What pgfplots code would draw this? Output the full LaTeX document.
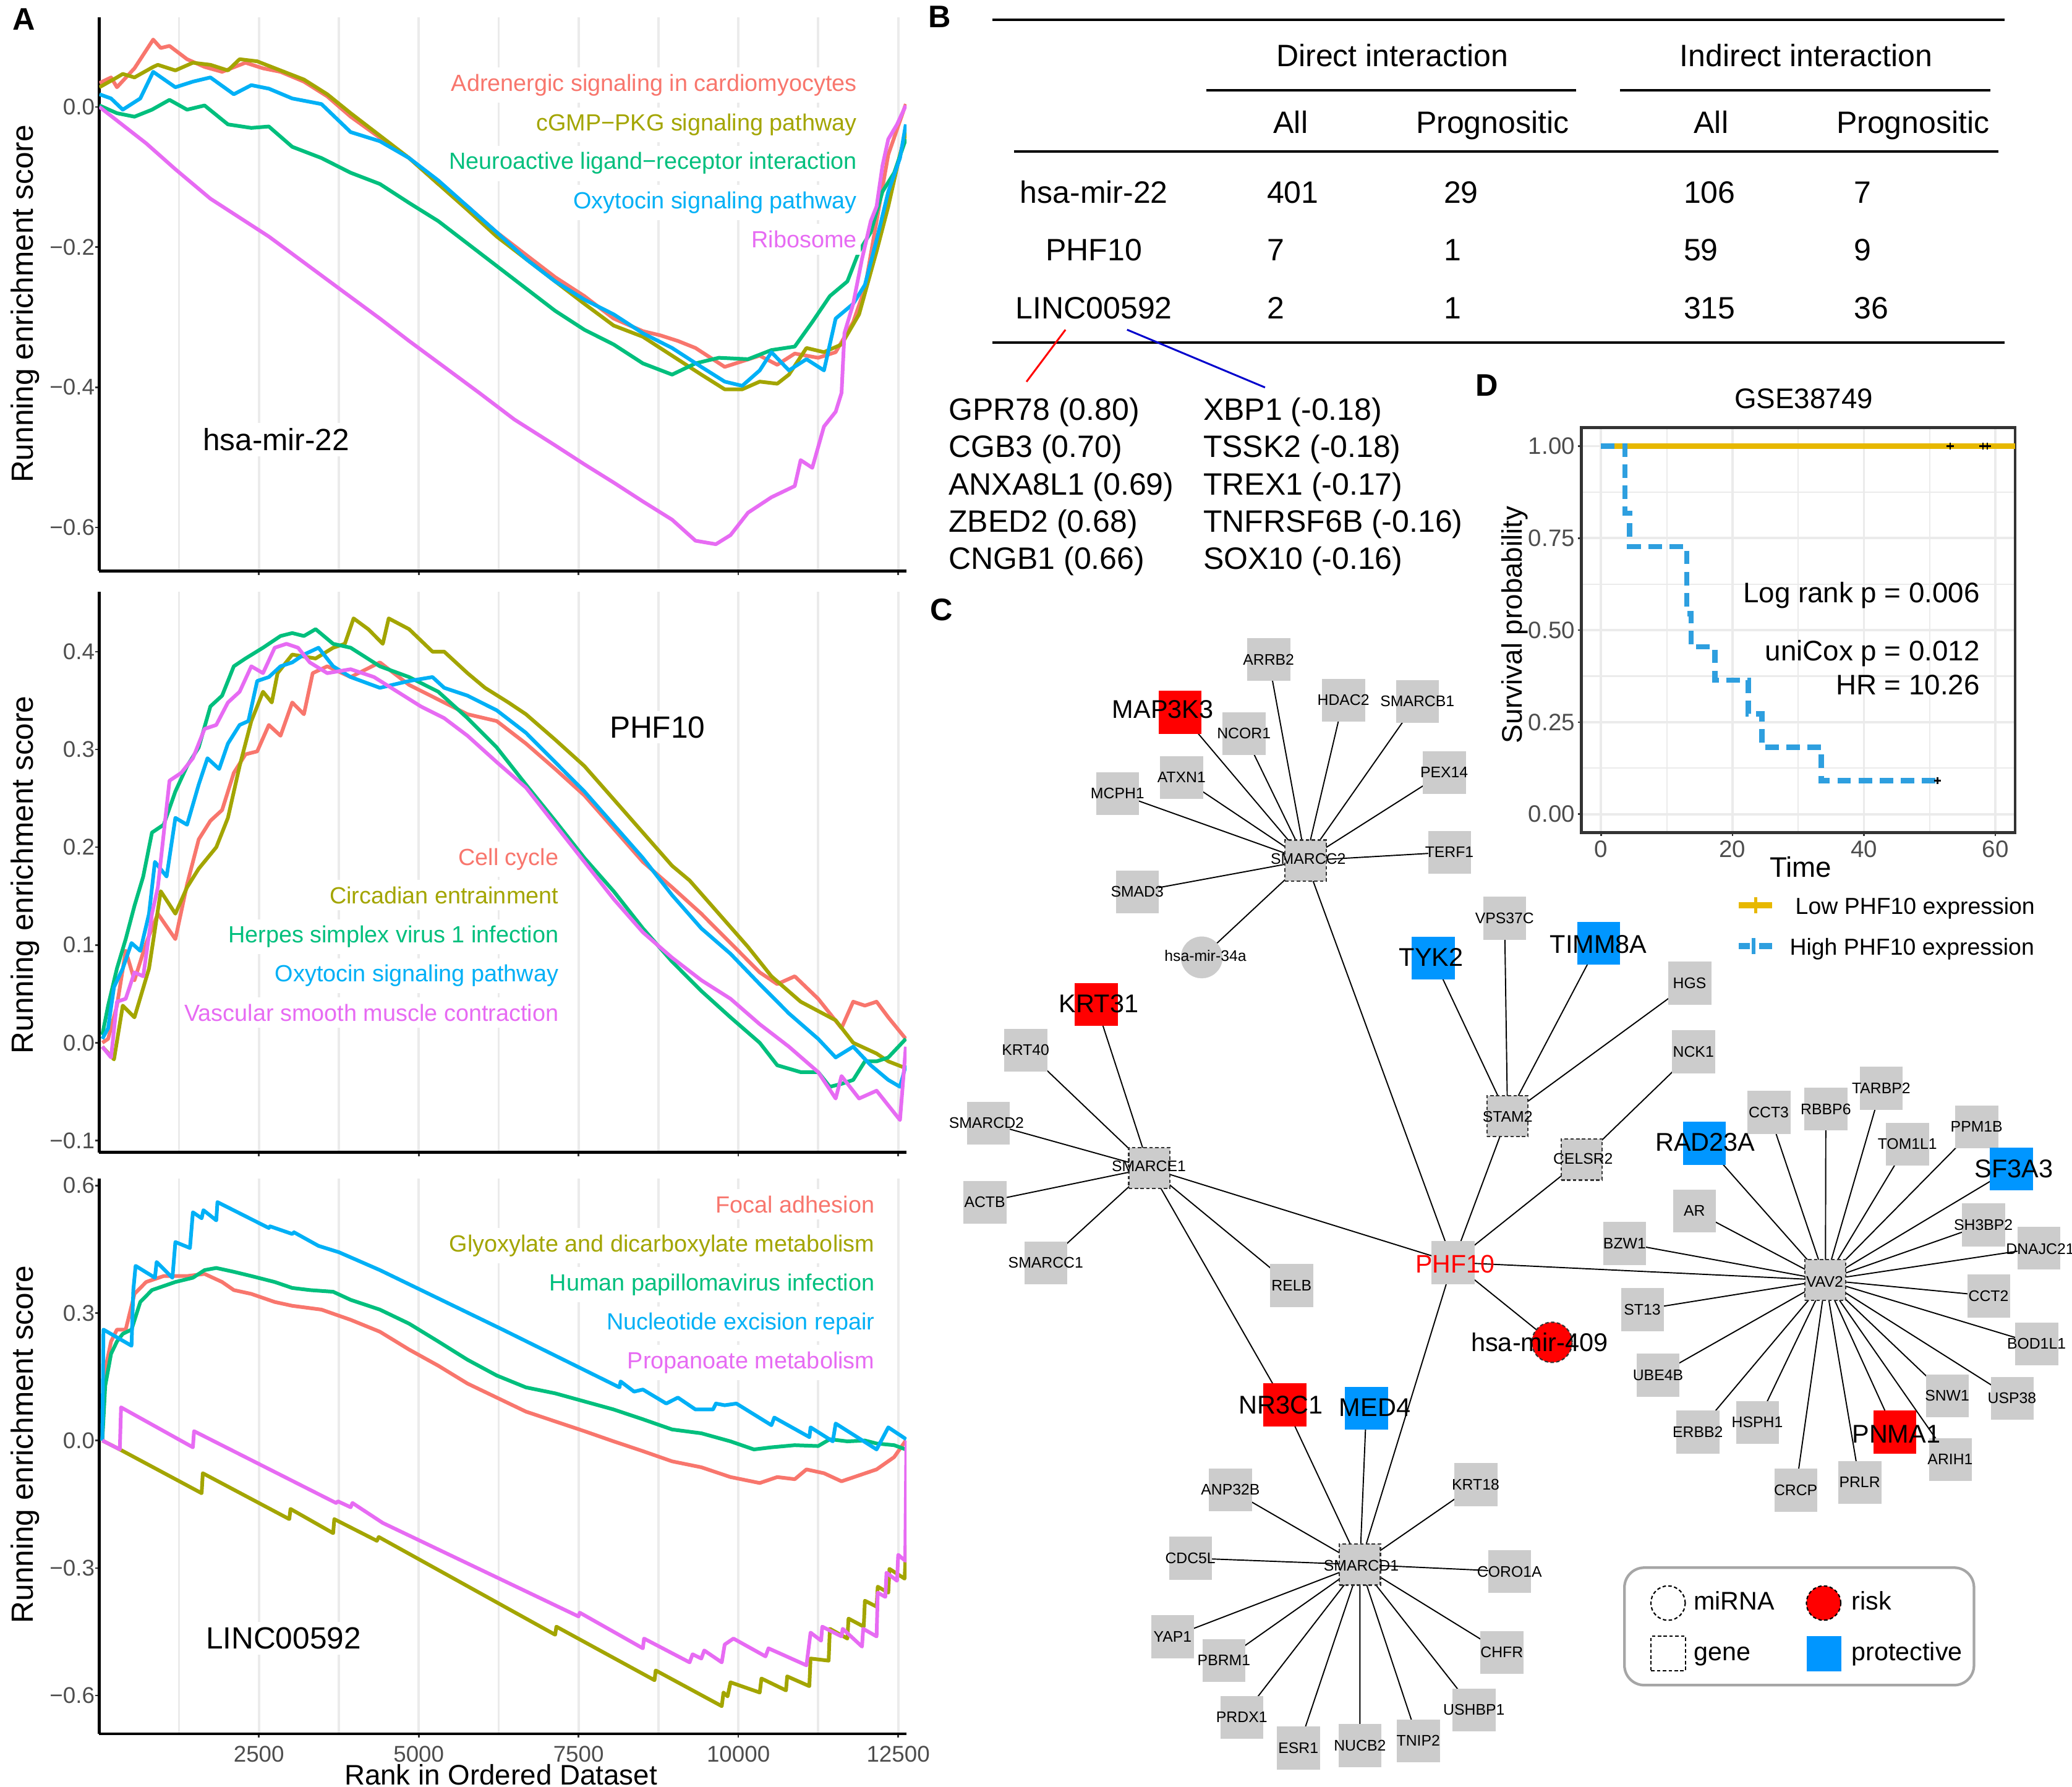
\documentclass[border=0pt]{standalone}
\usepackage{fontspec}
\setmainfont{Liberation Sans}
\usepackage{pgfplots}
\pgfplotsset{compat=1.18}

\definecolor{gR}{HTML}{F8766D}
\definecolor{gO}{HTML}{A3A500}
\definecolor{gG}{HTML}{00BF7D}
\definecolor{gB}{HTML}{00B0F6}
\definecolor{gP}{HTML}{E76BF3}
\definecolor{labgray}{HTML}{4D4D4D}
\definecolor{gridgray}{HTML}{EBEBEB}
\definecolor{tickdark}{HTML}{333333}
\definecolor{nodegray}{HTML}{CCCCCC}
\definecolor{riskred}{HTML}{FF0000}
\definecolor{protblue}{HTML}{0096FF}
\definecolor{kmgold}{HTML}{E7B800}
\definecolor{kmblue}{HTML}{2E9FDF}
\definecolor{boxgray}{HTML}{A6A6A6}

\newcommand\fsz[1]{\fontsize{#1}{#1}\selectfont}

\pgfplotsset{
  gsea/.style={
    scale only axis, width=305.5pt, xmin=0, xmax=12630,
    axis lines=left, axis line style={-, line width=1.1pt, black},
    xtick={2500,5000,7500,10000,12500},
    minor xtick={1250,3750,6250,8750,11250},
    scaled x ticks=false,
    tick align=outside, major tick length=1.5pt, minor tick length=0pt,
    tick style={line width=0.6pt, tickdark},
    xmajorgrids, xminorgrids,
    major grid style={gridgray, line width=0.9pt},
    minor grid style={gridgray, line width=0.9pt},
    ticklabel style={font=\fsz{8.6}, text=labgray},
    yticklabel style={inner sep=0pt},
    xticklabel style={inner sep=3pt},
  },
}
\tikzset{
  t/.style={inner sep=0pt},
  gline/.style={line width=1.4pt, line join=round},
  glab/.style={anchor=base east, font=\fsz{8.85}, fill=white, inner xsep=1.5pt, inner ysep=2.5pt, xshift=1.5pt},
  gtitle/.style={anchor=base, font=\fsz{11.6}, fill=white, inner sep=2pt},
}

\begin{document}
\begin{tikzpicture}

% ---------------- A: hsa-mir-22
\begin{axis}[gsea, at={(37.5pt,460pt)}, anchor=south west, height=209.5pt,
  ymin=-0.662, ymax=0.128, ytick={-0.6,-0.4,-0.2,0}, yticklabels={−0.6,−0.4,−0.2,0.0},
  xticklabels={{},{},{},{},{}}]
\addplot[gR, gline] coordinates {(5,0.034) (187,0.042) (279,0.028) (553,0.055) (846,0.096) (964,0.084) (1101,0.087) (1376,0.068) (1650,0.057) (1924,0.050) (2290,0.063) (2564,0.055) (2838,0.050) (3204,0.036) (3569,0.015) (3935,-0.014) (4392,-0.044) (4849,-0.073) (5306,-0.110) (5763,-0.142) (6220,-0.179) (6677,-0.211) (7134,-0.243) (7591,-0.270) (8049,-0.302) (8506,-0.320) (8780,-0.326) (9054,-0.334) (9329,-0.344) (9786,-0.371) (10060,-0.363) (10334,-0.355) (10608,-0.368) (10882,-0.352) (11248,-0.358) (11522,-0.350) (11796,-0.307) (11979,-0.259) (12162,-0.163) (12345,-0.068) (12528,-0.020) (12619,0.004)};
\addplot[gO, gline] coordinates {(5,0.028) (279,0.042) (370,0.047) (553,0.042) (846,0.057) (919,0.060) (1193,0.052) (1467,0.063) (1741,0.060) (2015,0.052) (2198,0.068) (2473,0.065) (2838,0.052) (3204,0.039) (3569,0.018) (3935,-0.009) (4392,-0.041) (4849,-0.073) (5306,-0.110) (5763,-0.147) (6220,-0.185) (6677,-0.217) (7134,-0.249) (7591,-0.281) (8049,-0.312) (8506,-0.328) (8963,-0.355) (9420,-0.382) (9786,-0.403) (10060,-0.403) (10334,-0.392) (10608,-0.395) (10791,-0.382) (11065,-0.344) (11339,-0.350) (11613,-0.339) (11888,-0.296) (12162,-0.206) (12345,-0.142) (12528,-0.068) (12625,-0.036)};
\addplot[gG, gline] coordinates {(5,0.002) (279,-0.009) (553,-0.014) (827,-0.004) (1101,0.010) (1376,-0.004) (1650,0.002) (2015,-0.025) (2381,-0.030) (2655,-0.028) (3021,-0.057) (3478,-0.073) (3935,-0.094) (4392,-0.110) (4849,-0.137) (5306,-0.163) (5763,-0.195) (6220,-0.227) (6677,-0.259) (7134,-0.291) (7591,-0.318) (8049,-0.339) (8506,-0.366) (8963,-0.382) (9329,-0.366) (9694,-0.358) (10151,-0.360) (10517,-0.347) (10882,-0.342) (11156,-0.307) (11431,-0.270) (11705,-0.249) (11888,-0.206) (12071,-0.179) (12254,-0.121) (12437,-0.094) (12619,-0.046)};
\addplot[gB, gline] coordinates {(5,0.018) (187,0.012) (370,-0.004) (644,0.012) (846,0.050) (1193,0.028) (1467,0.036) (1741,0.042) (2107,0.018) (2381,0.031) (2655,0.026) (3021,0.012) (3478,0.004) (3935,-0.036) (4392,-0.049) (4849,-0.073) (5306,-0.105) (5763,-0.142) (6220,-0.179) (6677,-0.217) (7134,-0.249) (7591,-0.275) (8049,-0.296) (8506,-0.323) (8963,-0.344) (9420,-0.371) (9786,-0.392) (10060,-0.398) (10334,-0.376) (10517,-0.350) (10791,-0.376) (11065,-0.360) (11339,-0.376) (11522,-0.302) (11796,-0.281) (11979,-0.254) (12162,-0.190) (12345,-0.121) (12528,-0.073) (12619,-0.025)};
\addplot[gP, gline] coordinates {(5,0.0) (736,-0.052) (1193,-0.089) (1741,-0.131) (2198,-0.158) (2655,-0.185) (3204,-0.222) (3752,-0.259) (4392,-0.302) (4849,-0.334) (5398,-0.371) (5946,-0.408) (6495,-0.446) (7134,-0.483) (7591,-0.510) (8049,-0.536) (8506,-0.563) (8963,-0.589) (9329,-0.619) (9648,-0.624) (9877,-0.611) (10151,-0.579) (10517,-0.557) (10882,-0.541) (10974,-0.504) (11156,-0.515) (11339,-0.456) (11522,-0.435) (11614,-0.408) (11659,-0.323) (11796,-0.281) (11934,-0.217) (12071,-0.163) (12162,-0.142) (12254,-0.084) (12345,-0.046) (12482,-0.025) (12619,0.002)};
\node[glab, text=gR] at (axis cs:11862,0.02245) {Adrenergic signaling in cardiomyocytes};
\node[glab, text=gO] at (axis cs:11862,-0.03434) {cGMP−PKG signaling pathway};
\node[glab, text=gG] at (axis cs:11862,-0.08925) {Neuroactive ligand−receptor interaction};
\node[glab, text=gB] at (axis cs:11862,-0.1451) {Oxytocin signaling pathway};
\node[glab, text=gP] at (axis cs:11862,-0.2009) {Ribosome};
\node[gtitle] at (axis cs:2769,-0.4906) {hsa-mir-22};
\end{axis}

% ---------------- A: PHF10
\begin{axis}[gsea, at={(37.5pt,240pt)}, anchor=south west, height=212pt,
  ymin=-0.112, ymax=0.461, ytick={-0.1,0,0.1,0.2,0.3,0.4}, yticklabels={−0.1,0.0,0.1,0.2,0.3,0.4},
  xticklabels={{},{},{},{},{}}]
\addplot[gR, gline] coordinates {(50,0.0) (141,0.004) (279,0.038) (416,0.094) (553,0.064) (736,0.102) (919,0.132) (1193,0.106) (1376,0.162) (1558,0.208) (1741,0.227) (1924,0.238) (2107,0.276) (2290,0.295) (2473,0.298) (2655,0.325) (2838,0.314) (3021,0.348) (3204,0.336) (3341,0.378) (3569,0.385) (3935,0.374) (4392,0.389) (4849,0.366) (5306,0.351) (5763,0.336) (6220,0.329) (6677,0.306) (7134,0.280) (7591,0.253) (8049,0.219) (8506,0.185) (8963,0.159) (9420,0.132) (9877,0.102) (10334,0.072) (10608,0.060) (10882,0.068) (11248,0.045) (11613,0.015) (11796,0.042) (11979,0.038) (12162,0.042) (12345,0.026) (12619,0.004)};
\addplot[gO, gline] coordinates {(50,-0.004) (233,-0.017) (370,0.038) (553,0.026) (781,0.076) (964,0.155) (1193,0.132) (1376,0.159) (1558,0.178) (1833,0.200) (2015,0.230) (2198,0.283) (2381,0.329) (2564,0.359) (2701,0.348) (2792,0.378) (3021,0.397) (3387,0.393) (3661,0.404) (3844,0.408) (3981,0.434) (4210,0.423) (4438,0.408) (4530,0.434) (4849,0.423) (5215,0.400) (5398,0.400) (5763,0.378) (6037,0.363) (6403,0.348) (6677,0.336) (7134,0.310) (7591,0.283) (8049,0.249) (8506,0.215) (8963,0.181) (9237,0.166) (9694,0.132) (10151,0.098) (10517,0.068) (10974,0.042) (11522,0.023) (11796,0.0) (12162,-0.011) (12345,-0.019) (12619,-0.026)};
\addplot[gG, gline] coordinates {(50,0.008) (141,0.038) (279,0.076) (416,0.106) (553,0.140) (690,0.170) (827,0.215) (1010,0.223) (1193,0.257) (1376,0.283) (1558,0.302) (1741,0.344) (1924,0.355) (2107,0.385) (2290,0.393) (2564,0.404) (2838,0.416) (3021,0.419) (3204,0.416) (3387,0.423) (3661,0.408) (3935,0.404) (4392,0.385) (4849,0.374) (5306,0.359) (5763,0.332) (6220,0.302) (6677,0.264) (7134,0.227) (7591,0.189) (8049,0.155) (8506,0.117) (8963,0.083) (9420,0.053) (9877,0.026) (10334,0.0) (10608,-0.023) (10974,-0.030) (11248,-0.030) (11431,-0.045) (11613,-0.042) (11796,-0.038) (11979,-0.019) (12162,-0.019) (12345,-0.015) (12619,0.004)};
\addplot[gB, gline] coordinates {(50,0.004) (141,0.015) (233,0.057) (370,0.076) (507,0.102) (644,0.094) (781,0.132) (873,0.185) (1056,0.170) (1193,0.230) (1376,0.223) (1558,0.264) (1695,0.291) (1878,0.280) (2015,0.306) (2198,0.325) (2335,0.329) (2473,0.370) (2655,0.374) (2838,0.385) (3021,0.389) (3204,0.397) (3432,0.404) (3661,0.385) (3935,0.374) (4392,0.363) (4849,0.370) (5215,0.374) (5398,0.363) (5763,0.355) (6220,0.340) (6677,0.317) (7134,0.287) (7591,0.257) (8049,0.223) (8506,0.189) (8963,0.151) (9420,0.117) (9877,0.091) (10334,0.060) (10791,0.030) (11248,0.004) (11522,-0.015) (11796,-0.004) (12071,-0.023) (12345,-0.038) (12528,-0.045) (12619,-0.023)};
\addplot[gP, gline] coordinates {(50,-0.004) (187,-0.015) (279,0.042) (416,0.045) (553,0.072) (690,0.068) (827,0.132) (919,0.159) (1101,0.268) (1284,0.276) (1467,0.291) (1650,0.321) (1832,0.325) (2015,0.348) (2198,0.359) (2381,0.385) (2564,0.378) (2747,0.404) (2930,0.408) (3112,0.404) (3295,0.389) (3569,0.378) (3935,0.382) (4301,0.374) (4667,0.359) (5032,0.344) (5398,0.332) (5763,0.314) (6220,0.287) (6677,0.261) (7134,0.223) (7591,0.185) (8049,0.147) (8506,0.113) (8963,0.087) (9420,0.064) (9877,0.045) (10334,0.019) (10791,-0.004) (11248,-0.030) (11522,-0.057) (11613,-0.034) (11888,-0.057) (12162,-0.049) (12345,-0.064) (12528,-0.079) (12619,-0.004)};
\node[glab, text=gR] at (axis cs:7194,0.1815) {Cell cycle};
\node[glab, text=gO] at (axis cs:7194,0.1423) {Circadian entrainment};
\node[glab, text=gG] at (axis cs:7194,0.1023) {Herpes simplex virus 1 infection};
\node[glab, text=gB] at (axis cs:7194,0.0623) {Oxytocin signaling pathway};
\node[glab, text=gP] at (axis cs:7194,0.0223) {Vascular smooth muscle contraction};
\node[gtitle] at (axis cs:8734,0.3118) {PHF10};
\end{axis}

% ---------------- A: LINC00592
\begin{axis}[gsea, at={(37.5pt,20pt)}, anchor=south west, height=210pt,
  ymin=-0.69, ymax=0.616, ytick={-0.6,-0.3,0,0.3,0.6}, yticklabels={−0.6,−0.3,0.0,0.3,0.6},
  xticklabels={2500,5000,7500,10000,12500}]
\addplot[gR, gline] coordinates {(50,0) (96,0.167) (187,0.233) (279,0.261) (416,0.261) (553,0.345) (736,0.373) (1010,0.387) (1376,0.387) (1650,0.392) (1924,0.373) (2107,0.354) (2381,0.345) (2747,0.326) (3021,0.317) (3478,0.308) (3935,0.284) (4392,0.256) (4849,0.214) (5306,0.176) (5763,0.134) (6220,0.101) (6677,0.068) (7134,0.045) (7591,0.022) (8049,-0.002) (8506,-0.025) (8963,-0.049) (9420,-0.063) (9877,-0.086) (10334,-0.100) (10608,-0.086) (10882,-0.091) (11065,-0.068) (11339,-0.077) (11613,-0.096) (11888,-0.082) (12162,-0.068) (12437,-0.039) (12619,0)};
\addplot[gO, gline] coordinates {(50,0) (324,-0.021) (1604,-0.124) (1622,-0.077) (2975,-0.185) (2994,-0.161) (3661,-0.218) (3679,-0.185) (4346,-0.236) (4374,-0.227) (7134,-0.457) (7153,-0.438) (8688,-0.564) (8707,-0.541) (9740,-0.625) (9767,-0.593) (9831,-0.602) (9877,-0.569) (10334,-0.593) (10361,-0.560) (10745,-0.588) (10763,-0.555) (11110,-0.578) (11129,-0.513) (11412,-0.518) (11431,-0.443) (11705,-0.466) (11723,-0.419) (11961,-0.438) (11979,-0.377) (12162,-0.391) (12180,-0.344) (12345,-0.358) (12363,-0.302) (12600,-0.325) (12625,-0.246)};
\addplot[gG, gline] coordinates {(50,0) (96,0.129) (187,0.204) (279,0.233) (370,0.251) (507,0.261) (644,0.326) (827,0.354) (1193,0.373) (1467,0.383) (1650,0.401) (1832,0.406) (2107,0.397) (2381,0.387) (2747,0.373) (3021,0.359) (3295,0.354) (3661,0.350) (3935,0.331) (4392,0.308) (4849,0.275) (5306,0.233) (5763,0.190) (6220,0.153) (6677,0.125) (7134,0.111) (7591,0.092) (8049,0.073) (8506,0.050) (8963,0.026) (9420,0.017) (9877,-0.002) (10243,-0.021) (10517,-0.016) (10882,-0.011) (11248,-0.013) (11431,0.003) (11705,-0.002) (11979,0) (12162,-0.007) (12437,-0.011) (12619,-0.021)};
\addplot[gB, gline] coordinates {(50,0) (68,0.261) (507,0.223) (535,0.354) (571,0.411) (873,0.383) (900,0.420) (1147,0.383) (1193,0.467) (1421,0.453) (1467,0.537) (1604,0.523) (1632,0.542) (1833,0.518) (1851,0.561) (2655,0.500) (2674,0.504) (3021,0.486) (3048,0.490) (3432,0.458) (3752,0.443) (4392,0.401) (6312,0.261) (8140,0.125) (8158,0.139) (8369,0.115) (8506,0.120) (8872,0.087) (9054,0.101) (9329,0.073) (9603,0.073) (9649,0.087) (9786,0.083) (9969,0.087) (10517,0.036) (10562,0.054) (11111,0.008) (11129,0.031) (11477,-0.002) (11522,0.040) (12162,-0.021) (12345,0.031) (12625,0.003)};
\addplot[gP, gline] coordinates {(50,0) (324,-0.021) (343,0.078) (1467,-0.016) (1485,0.022) (3707,-0.147) (3734,-0.143) (3935,-0.157) (3963,-0.147) (4438,-0.194) (7500,-0.414) (7518,-0.405) (8506,-0.489) (8524,-0.466) (9237,-0.522) (9283,-0.503) (9420,-0.513) (9466,-0.494) (9740,-0.522) (9786,-0.480) (9923,-0.466) (10425,-0.508) (10471,-0.489) (11065,-0.529) (11129,-0.452) (11294,-0.471) (11312,-0.438) (11613,-0.461) (11632,-0.443) (11934,-0.485) (11952,-0.443) (12162,-0.461) (12180,-0.358) (12299,-0.368) (12317,-0.311) (12482,-0.330) (12500,-0.269) (12610,-0.283) (12628,0)};
\node[glab, text=gR] at (axis cs:12138,0.536) {Focal adhesion};
\node[glab, text=gO] at (axis cs:12138,0.4446) {Glyoxylate and dicarboxylate metabolism};
\node[glab, text=gG] at (axis cs:12138,0.3526) {Human papillomavirus infection};
\node[glab, text=gB] at (axis cs:12138,0.2602) {Nucleotide excision repair};
\node[glab, text=gP] at (axis cs:12138,0.1689) {Propanoate metabolism};
\node[gtitle] at (axis cs:2884,-0.4902) {LINC00592};
\end{axis}

% ---------------- D: survival
\begin{axis}[at={(598.35pt,361pt)}, anchor=south west, width=164.1pt, height=153.15pt, scale only axis,
  xmin=-3, xmax=63, ymin=-0.05, ymax=1.05,
  axis line style={draw=tickdark, line width=1.1pt},
  xtick={0,20,40,60}, xticklabels={0,20,40,60}, minor xtick={10,30,50},
  ytick={0,0.25,0.5,0.75,1}, yticklabels={0.00,0.25,0.50,0.75,1.00}, minor ytick={0.125,0.375,0.625,0.875},
  grid=both, major grid style={draw=gridgray, line width=0.9pt}, minor grid style={draw=gridgray, line width=0.5pt},
  xtick pos=bottom, ytick pos=left, tick align=outside, major tick length=1.3pt, minor tick length=0pt,
  tick style={draw=tickdark, line width=0.6pt},
  ticklabel style={font=\fsz{9}, text=labgray, inner sep=1pt},
  xticklabel style={inner sep=1.6pt}]
\addplot[kmgold, line width=2pt] coordinates {(0,1) (63.5,1)};
\addplot[kmblue, line width=2pt, const plot, dash pattern=on 5.1pt off 2.9pt] coordinates {(0,1) (3.65,0.818) (4.35,0.727) (13.05,0.545) (13.7,0.4545) (17.3,0.3636) (22.4,0.2727) (24.5,0.1818) (33.5,0.0909) (51.2,0.0909)};
\addplot[only marks, mark=+, mark size=1.4pt, black, line width=0.5pt] coordinates {(53.1,1) (58.1,1) (58.8,1) (51.2,0.0909)};
\end{axis}

% ---------------- canvas: B, C and all free text (pixel coordinates, y down)
\begin{axis}[at={(392pt,338pt)}, anchor=center, width=784pt, height=676pt, scale only axis,
  xmin=0, xmax=1568, ymin=0, ymax=1352, y dir=reverse, hide axis, clip=false]

% panel letters
\node[t, anchor=base, font=\bfseries\fsz{11.8}] at (axis cs:18,22.5) {A};
\node[t, anchor=base, font=\bfseries\fsz{11.8}] at (axis cs:711,21) {B};
\node[t, anchor=base, font=\bfseries\fsz{11.8}] at (axis cs:712.5,469.5) {C};
\node[t, anchor=base, font=\bfseries\fsz{11.8}] at (axis cs:1125,299.5) {D};

% A axis titles
\node[t, rotate=90, anchor=base, font=\fsz{11.6}] at (axis cs:25,230) {Running enrichment score};
\node[t, rotate=90, anchor=base, font=\fsz{11.6}] at (axis cs:25,662) {Running enrichment score};
\node[t, rotate=90, anchor=base, font=\fsz{11.6}] at (axis cs:25,1093) {Running enrichment score};
\node[t, anchor=base, font=\fsz{10.7}] at (axis cs:379,1350.5) {Rank in Ordered Dataset};

% B table
\draw[line width=1pt] (axis cs:751,15) -- (axis cs:1517,15);
\draw[line width=1pt] (axis cs:913,68.2) -- (axis cs:1192.7,68.2);
\draw[line width=1pt] (axis cs:1226,68.2) -- (axis cs:1506,68.2);
\draw[line width=1pt] (axis cs:767.5,114.5) -- (axis cs:1512.4,114.5);
\draw[line width=1pt] (axis cs:751,259.4) -- (axis cs:1517,259.4);
\node[t, font=\fsz{11.7}, anchor=base] at (axis cs:1053.7,50.4) {Direct interaction};
\node[t, font=\fsz{11.7}, anchor=base] at (axis cs:1366.8,50.4) {Indirect interaction};
\node[t, font=\fsz{11.7}, anchor=base] at (axis cs:976.7,101) {All};
\node[t, font=\fsz{11.7}, anchor=base] at (axis cs:1129.4,101) {Prognositic};
\node[t, font=\fsz{11.7}, anchor=base] at (axis cs:1294.9,101) {All};
\node[t, font=\fsz{11.7}, anchor=base] at (axis cs:1447.6,101) {Prognositic};
\node[t, font=\fsz{11.7}, anchor=base] at (axis cs:827.9,153.6) {hsa-mir-22};
\node[t, font=\fsz{11.7}, anchor=base] at (axis cs:827.9,197.3) {PHF10};
\node[t, font=\fsz{11.7}, anchor=base] at (axis cs:827.9,241) {LINC00592};
\node[t, font=\fsz{11.7}, anchor=base west] at (axis cs:958.4,153.6) {401};
\node[t, font=\fsz{11.7}, anchor=base west] at (axis cs:958.4,197.3) {7};
\node[t, font=\fsz{11.7}, anchor=base west] at (axis cs:958.4,241) {2};
\node[t, font=\fsz{11.7}, anchor=base west] at (axis cs:1092.2,153.6) {29};
\node[t, font=\fsz{11.7}, anchor=base west] at (axis cs:1092.2,197.3) {1};
\node[t, font=\fsz{11.7}, anchor=base west] at (axis cs:1092.2,241) {1};
\node[t, font=\fsz{11.7}, anchor=base west] at (axis cs:1273.8,153.6) {106};
\node[t, font=\fsz{11.7}, anchor=base west] at (axis cs:1273.8,197.3) {59};
\node[t, font=\fsz{11.7}, anchor=base west] at (axis cs:1273.8,241) {315};
\node[t, font=\fsz{11.7}, anchor=base west] at (axis cs:1402.6,153.6) {7};
\node[t, font=\fsz{11.7}, anchor=base west] at (axis cs:1402.6,197.3) {9};
\node[t, font=\fsz{11.7}, anchor=base west] at (axis cs:1402.6,241) {36};
\node[t, font=\fsz{11.7}, anchor=base west] at (axis cs:717.5,318) {GPR78 (0.80)};
\node[t, font=\fsz{11.7}, anchor=base west] at (axis cs:717.5,346.2) {CGB3 (0.70)};
\node[t, font=\fsz{11.7}, anchor=base west] at (axis cs:717.5,374.4) {ANXA8L1 (0.69)};
\node[t, font=\fsz{11.7}, anchor=base west] at (axis cs:717.5,402.6) {ZBED2 (0.68)};
\node[t, font=\fsz{11.7}, anchor=base west] at (axis cs:717.5,430.8) {CNGB1 (0.66)};
\node[t, font=\fsz{11.7}, anchor=base west] at (axis cs:910.2,318) {XBP1 (-0.18)};
\node[t, font=\fsz{11.7}, anchor=base west] at (axis cs:910.2,346.2) {TSSK2 (-0.18)};
\node[t, font=\fsz{11.7}, anchor=base west] at (axis cs:910.2,374.4) {TREX1 (-0.17)};
\node[t, font=\fsz{11.7}, anchor=base west] at (axis cs:910.2,402.6) {TNFRSF6B (-0.16)};
\node[t, font=\fsz{11.7}, anchor=base west] at (axis cs:910.2,430.8) {SOX10 (-0.16)};
\draw[red, line width=0.7pt] (axis cs:806.3,249.5) -- (axis cs:776.8,288.9);
\draw[blue!80!black, line width=0.7pt] (axis cs:852.9,249.5) -- (axis cs:957.3,293.2);

% D free text and legend
\node[t, anchor=base, font=\fsz{10.7}] at (axis cs:1365,309) {GSE38749};
\node[t, anchor=base, font=\fsz{10.7}] at (axis cs:1362.6,663.8) {Time};
\node[t, rotate=90, anchor=base, font=\fsz{10.7}] at (axis cs:1151.6,472.8) {Survival probability};
\node[t, anchor=base east, font=\fsz{10.7}] at (axis cs:1498.6,456) {Log rank p = 0.006};
\node[t, anchor=base east, font=\fsz{10.7}] at (axis cs:1498.6,499.8) {uniCox p = 0.012};
\node[t, anchor=base east, font=\fsz{10.7}] at (axis cs:1498.6,525.6) {HR = 10.26};
\addplot[kmgold, line width=2.3pt] coordinates {(1316,685.1) (1341,685.1)};
\addplot[only marks, mark=|, mark size=3pt, kmgold, line width=1.2pt] coordinates {(1328.6,685.1)};
\addplot[kmblue, line width=2.3pt] coordinates {(1316,715.8) (1324,715.8)};
\addplot[kmblue, line width=2.3pt] coordinates {(1331,715.8) (1341,715.8)};
\addplot[only marks, mark=|, mark size=3pt, kmblue, line width=1.2pt] coordinates {(1327,715.8)};
\node[t, anchor=base west, font=\fsz{8.76}] at (axis cs:1358.3,691.7) {Low PHF10 expression};
\node[t, anchor=base west, font=\fsz{8.76}] at (axis cs:1354,722.6) {High PHF10 expression};

% C network edges (hub to each partner)
\addplot[black, line width=0.45pt, line join=round] coordinates {(988,651.2) (960,499) (988,651.2) (1016.6,529.7) (988,651.2) (1072.6,530.6) (988,651.2) (893,538.9) (988,651.2) (941.3,555) (988,651.2) (894.1,588.3) (988,651.2) (845.7,600.4) (988,651.2) (1092.9,584.5) (988,651.2) (1096.8,644.9) (988,651.2) (860.6,674.7) (988,651.2) (909.4,724.5) (988,651.2) (1099.5,955.3)};
\addplot[black, line width=0.45pt, line join=round] coordinates {(869.7,883.9) (829.4,760.1) (869.7,883.9) (776.1,794.6) (869.7,883.9) (747.8,849.9) (869.7,883.9) (745.2,909.6) (869.7,883.9) (791.4,955.7) (869.7,883.9) (977.4,972.7) (869.7,883.9) (972.2,1062.9) (869.7,883.9) (1099.5,955.3)};
\addplot[black, line width=0.45pt, line join=round] coordinates {(1140.8,844.7) (1084.4,725) (1140.8,844.7) (1138.6,694.8) (1140.8,844.7) (1209.7,713.8) (1140.8,844.7) (1278.6,743.9) (1140.8,844.7) (1099.5,955.3)};
\addplot[black, line width=0.45pt, line join=round] coordinates {(1281.5,795.8) (1197,877.5) (1099.5,955.3) (1174.5,1015.8)};
\addplot[black, line width=0.45pt, line join=round] coordinates {(1381.4,968.7) (1289.6,865) (1381.4,968.7) (1338.5,841.6) (1381.4,968.7) (1381.7,839.2) (1381.4,968.7) (1423.6,823.4) (1381.4,968.7) (1443.4,865.8) (1381.4,968.7) (1495.8,852.7) (1381.4,968.7) (1522,884.4) (1381.4,968.7) (1282.2,916.3) (1381.4,968.7) (1229.4,940.8) (1381.4,968.7) (1500.9,926.8) (1381.4,968.7) (1542.9,944.4) (1381.4,968.7) (1504.8,980.6) (1381.4,968.7) (1242.8,991) (1381.4,968.7) (1541.1,1017) (1381.4,968.7) (1254.7,1040.6) (1381.4,968.7) (1473.5,1056.3) (1381.4,968.7) (1522.6,1058) (1381.4,968.7) (1284.8,1083.5) (1381.4,968.7) (1329.8,1076.2) (1381.4,968.7) (1433.7,1083.5) (1381.4,968.7) (1475.8,1104.3) (1381.4,968.7) (1358.9,1127.5) (1381.4,968.7) (1407.3,1121.6) (1381.4,968.7) (1099.5,955.3)};
\addplot[black, line width=0.45pt, line join=round] coordinates {(1029.1,1184) (972.2,1062.9) (1029.1,1184) (1034,1065.6) (1029.1,1184) (931.1,1127.3) (1029.1,1184) (1116.7,1123.4) (1029.1,1184) (900.8,1179.1) (1029.1,1184) (1142.3,1189.2) (1029.1,1184) (887.4,1238.4) (1029.1,1184) (926.2,1256.5) (1029.1,1184) (1136.5,1250.3) (1029.1,1184) (939.7,1299.6) (1029.1,1184) (1115.4,1293.8) (1029.1,1184) (982.5,1322.7) (1029.1,1184) (1029.1,1320.8) (1029.1,1184) (1073.3,1317.2) (1029.1,1184) (1099.5,955.3)};

% C network nodes
\addplot[only marks, mark=square*, mark size=8pt, mark options={fill=nodegray, draw=nodegray, line width=0.1pt}] table {
x y
960.0 499.0
1016.6 529.7
1072.6 530.6
941.3 555.0
894.1 588.3
845.7 600.4
1092.9 584.5
1096.8 644.9
860.6 674.7
776.1 794.6
747.8 849.9
745.2 909.6
791.4 955.7
977.4 972.7
1138.6 694.8
1278.6 743.9
1281.5 795.8
1338.5 841.6
1381.7 839.2
1423.6 823.4
1443.4 865.8
1495.8 852.7
1282.2 916.3
1229.4 940.8
1500.9 926.8
1542.9 944.4
1504.8 980.6
1242.8 991.0
1541.1 1017.0
1254.7 1040.6
1473.5 1056.3
1522.6 1058.0
1284.8 1083.5
1329.8 1076.2
1475.8 1104.3
1358.9 1127.5
1407.3 1121.6
931.1 1127.3
1116.7 1123.4
900.8 1179.1
1142.3 1189.2
887.4 1238.4
926.2 1256.5
1136.5 1250.3
939.7 1299.6
1115.4 1293.8
982.5 1322.7
1029.1 1320.8
1073.3 1317.2
1099.5 955.3
};
\addplot[only marks, mark=square*, mark size=7.75pt, mark options={fill=nodegray, draw=tickdark, line width=0.5pt, dash pattern=on 1.3pt off 0.9pt}] table {
x y
988.0 651.2
869.7 883.9
1140.8 844.7
1197.0 877.5
1381.4 968.7
1029.1 1184.0
};
\addplot[only marks, mark=square*, mark size=8pt, mark options={fill=riskred, draw=riskred, line width=0.1pt}] table {
x y
893.0 538.9
829.4 760.1
972.2 1062.9
1433.7 1083.5
};
\addplot[only marks, mark=square*, mark size=8pt, mark options={fill=protblue, draw=protblue, line width=0.1pt}] table {
x y
1084.4 725.0
1209.7 713.8
1289.6 865.0
1522.0 884.4
1034.0 1065.6
};
\addplot[only marks, mark=*, mark size=7.85pt, mark options={fill=nodegray, draw=nodegray, line width=0.1pt}] coordinates {(909.4,724.5)};
\addplot[only marks, mark=*, mark size=7.6pt, mark options={fill=riskred, draw=tickdark, line width=0.5pt, dash pattern=on 1.3pt off 0.9pt}] coordinates {(1174.5,1015.8)};

% C node labels
\addplot[draw=none, mark=none, point meta=explicit symbolic, nodes near coords,
  nodes near coords style={anchor=center, font=\fsz{5.8}, text=black}] table[meta=lab] {
x y lab
960.0 499.0 ARRB2
1016.6 529.7 HDAC2
1072.6 530.6 SMARCB1
941.3 555.0 NCOR1
894.1 588.3 ATXN1
845.7 600.4 MCPH1
1092.9 584.5 PEX14
1096.8 644.9 TERF1
860.6 674.7 SMAD3
776.1 794.6 KRT40
746.5 849.9 SMARCD2
745.2 909.6 ACTB
791.4 955.7 SMARCC1
977.4 972.7 RELB
1138.6 694.8 VPS37C
1278.6 743.9 HGS
1281.5 795.8 NCK1
1338.5 841.6 CCT3
1381.7 839.2 RBBP6
1423.6 823.4 TARBP2
1443.4 865.8 TOM1L1
1495.8 852.7 PPM1B
1282.2 916.3 AR
1229.4 940.8 BZW1
1500.9 926.8 SH3BP2
1543.9 945.3 DNAJC21
1504.8 980.6 CCT2
1242.8 991.0 ST13
1541.1 1017.0 BOD1L1
1254.7 1040.6 UBE4B
1473.5 1056.3 SNW1
1522.6 1058.0 USP38
1284.8 1083.5 ERBB2
1329.8 1076.2 HSPH1
1475.8 1104.3 ARIH1
1358.9 1127.5 CRCP
1407.3 1121.6 PRLR
931.1 1127.3 ANP32B
1116.7 1123.4 KRT18
900.8 1179.1 CDC5L
1142.3 1189.2 CORO1A
887.4 1238.4 YAP1
926.2 1256.5 PBRM1
1136.5 1250.3 CHFR
939.7 1299.6 PRDX1
1115.4 1293.8 USHBP1
982.5 1322.7 ESR1
1029.1 1320.8 NUCB2
1073.3 1317.2 TNIP2
990.0 649.9 SMARCC2
869.4 882.6 SMARCE1
1140.9 845.2 STAM2
1198.0 876.7 CELSR2
1380.8 969.8 VAV2
1030.1 1184.9 SMARCD1
912.2 723.3 hsa-mir-34a
};
\addplot[draw=none, mark=none, point meta=explicit symbolic, nodes near coords,
  nodes near coords style={anchor=center, font=\fsz{9.7}, text=black}] table[meta=lab] {
x y lab
880.0 537.0 MAP3K3
831.5 759.6 KRT31
1083.0 724.5 TYK2
1209.7 714.4 TIMM8A
1290.5 864.3 RAD23A
1524.0 884.6 SF3A3
1435.0 1085.3 PNMA1
969.2 1063.3 NR3C1
1040.4 1065.3 MED4
1165.0 1015.8 hsa-mir-409
};
\addplot[draw=none, mark=none, point meta=explicit symbolic, nodes near coords,
  nodes near coords style={anchor=center, font=\fsz{9.6}, text=riskred}] table[meta=lab] {
x y lab
1101.0 956.5 PHF10
};

% C legend
\draw[boxgray, line width=1pt, rounded corners=7.5pt] (axis cs:1229.3,1186.3) rectangle (axis cs:1493.8,1275.2);
\addplot[only marks, mark=*, mark size=6.5pt, mark options={fill=white, draw=black, line width=0.5pt, dash pattern=on 1.3pt off 0.9pt}] coordinates {(1262.3,1213.1)};
\addplot[only marks, mark=*, mark size=6.5pt, mark options={fill=riskred, draw=black, line width=0.5pt, dash pattern=on 1.3pt off 0.9pt}] coordinates {(1380,1213.1)};
\addplot[only marks, mark=square*, mark size=6.5pt, mark options={fill=white, draw=black, line width=0.5pt, dash pattern=on 1.3pt off 0.9pt}] coordinates {(1262.5,1251.2)};
\addplot[only marks, mark=square*, mark size=6.5pt, mark options={fill=protblue, draw=protblue, line width=0.1pt}] coordinates {(1380.2,1251.2)};
\node[t, anchor=base west, font=\fsz{9.65}] at (axis cs:1281.4,1218) {miRNA};
\node[t, anchor=base west, font=\fsz{9.65}] at (axis cs:1400.9,1218) {risk};
\node[t, anchor=base west, font=\fsz{9.65}] at (axis cs:1281.4,1256.6) {gene};
\node[t, anchor=base west, font=\fsz{9.65}] at (axis cs:1400.9,1256.6) {protective};
\end{axis}

\pgfresetboundingbox
\path[use as bounding box] (0pt,0pt) rectangle (784pt,676pt);
\end{tikzpicture}
\end{document}
